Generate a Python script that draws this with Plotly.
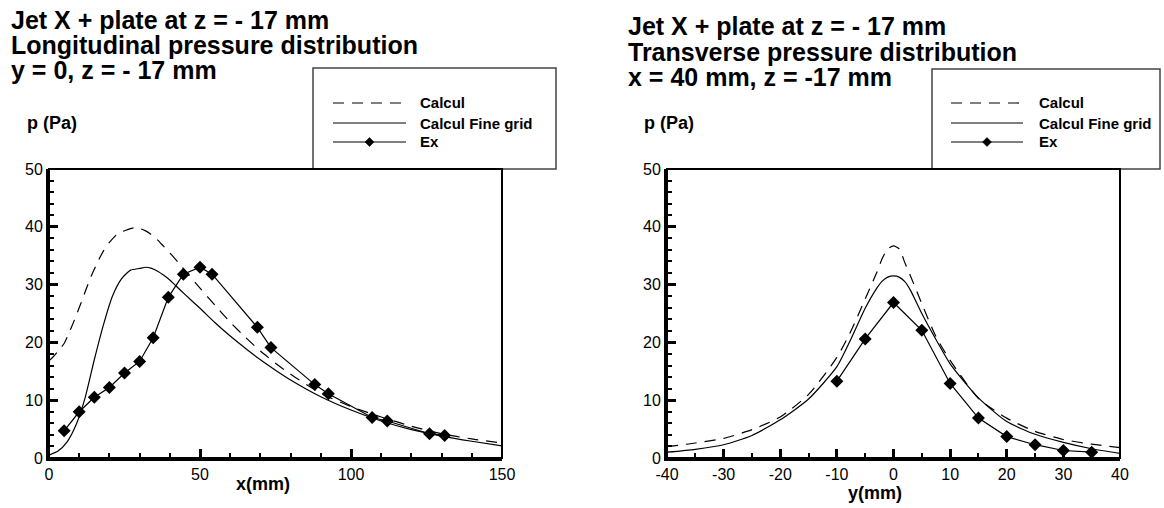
import plotly.graph_objects as go

W, H = 1164, 508

# ---------------- data ----------------
# Left: longitudinal distribution, y = 0, z = -17 mm
long_calc_x = [0, 1, 3, 5, 7.5, 10, 12, 14, 16, 18, 20, 23, 26, 28, 30, 32, 34, 36, 38, 40, 43, 46, 50,
               55, 60, 65, 70, 75, 80, 90, 100, 110, 120, 130, 140, 150]
long_calc_y = [16.8, 17.3, 18.5, 19.8, 22.7, 26.0, 28.8, 31.5, 33.8, 35.8, 37.3, 38.9, 39.5, 39.8, 39.7,
               39.3, 38.6, 37.7, 36.6, 35.5, 33.7, 31.8, 29.4, 26.4, 23.5, 20.9, 18.5, 16.4, 14.5,
               11.2, 8.9, 7.1, 5.5, 4.2, 3.3, 2.6]
long_fine_x = [0, 3, 6, 9, 12, 15, 18, 21, 24, 27, 30, 32, 34, 36, 38, 40, 42, 45, 50, 55, 60, 65, 70,
               75, 80, 90, 100, 110, 120, 130, 140, 150]
long_fine_y = [0.5, 1.2, 2.8, 5.8, 10.5, 17.0, 23.0, 28.0, 31.0, 32.5, 32.8, 33.0, 32.8, 32.3, 31.6,
               30.8, 29.8, 28.3, 25.9, 23.4, 21.1, 19.0, 17.0, 15.2, 13.5, 10.6, 8.3, 6.4, 4.9, 3.8,
               2.9, 2.1]
long_ex_x = [5, 10, 15, 20, 25, 30, 34.5, 39.5, 44.5, 50, 54, 69, 73.5, 88, 92.5, 107, 112, 126, 131]
long_ex_y = [4.7, 8.0, 10.5, 12.2, 14.7, 16.7, 20.8, 27.8, 31.8, 33.0, 31.8, 22.6, 19.1, 12.7, 11.1,
             7.0, 6.4, 4.2, 3.9]

# Right: transverse distribution, x = 40 mm, z = -17 mm
trans_calc_x = [-40, -35, -30, -25, -20, -15, -10, -7.5, -5, -3, -2, -1, 0, 1, 2, 3, 5, 7.5, 10, 15,
                20, 25, 30, 35, 40]
trans_calc_y = [1.95, 2.6, 3.4, 4.9, 7.1, 11.0, 17.4, 22.0, 27.5, 32.0, 34.5, 36.2, 36.7, 36.2, 33.8,
                31.5, 26.7, 21.0, 16.9, 10.3, 6.9, 4.6, 3.2, 2.4, 1.8]
trans_fine_x = [-40, -35, -30, -25, -20, -15, -10, -7.5, -5, -3, -2, -1, 0, 1, 2, 3, 5, 7.5, 10, 15,
                20, 25, 30, 35, 40]
trans_fine_y = [1.0, 1.5, 2.3, 3.9, 6.6, 10.2, 15.8, 20.6, 25.9, 29.3, 30.6, 31.3, 31.5, 31.3, 30.5,
                29.0, 25.0, 20.5, 16.3, 10.4, 6.3, 4.1, 2.7, 1.6, 0.8]
trans_ex_x = [-10, -5, 0, 5, 10, 15, 20, 25, 30, 35]
trans_ex_y = [13.3, 20.6, 26.9, 22.1, 12.9, 6.9, 3.7, 2.3, 1.3, 1.0]

# tick labels
long_x_ticks = [0, 50, 100, 150]
long_x_ticktext = ["0", "50", "100", "150"]
trans_x_ticks = [-40, -30, -20, -10, 0, 10, 20, 30, 40]
trans_x_ticktext = ["-40", "-30", "-20", "-10", "0", "10", "20", "30", "40"]
p_ticks = [0, 10, 20, 30, 40, 50]
p_ticktext = ["0", "10", "20", "30", "40", "50"]

series_names = ["Calcul", "Calcul Fine grid", "Ex"]
left_title = ["Jet X + plate at z = - 17 mm", "Longitudinal pressure distribution",
              "y = 0, z = - 17 mm"]
right_title = ["Jet X + plate at z = - 17 mm", "Transverse pressure distribution",
               "x = 40 mm, z = -17 mm"]

# ---------------- helpers ----------------
FONT = "Liberation Sans, Arial, Helvetica, sans-serif"


def fx(p):
    return p / W


def fy(p):
    return 1 - p / H


DASH = "11px,8px"
LW = 1.2

fig = go.Figure()


def add_panel(xa, ya, cx, cy, fxs, fys, ex, ey):
    fig.add_trace(go.Scatter(x=cx, y=cy, mode="lines", xaxis=xa, yaxis=ya, showlegend=False,
                             name=series_names[0],
                             line=dict(color="black", width=LW, dash=DASH, shape="spline",
                                       smoothing=0.6)))
    fig.add_trace(go.Scatter(x=fxs, y=fys, mode="lines", xaxis=xa, yaxis=ya, showlegend=False,
                             name=series_names[1],
                             line=dict(color="black", width=LW, shape="spline", smoothing=0.6)))
    fig.add_trace(go.Scatter(x=ex, y=ey, mode="lines+markers", xaxis=xa, yaxis=ya, showlegend=False,
                             name=series_names[2], line=dict(color="black", width=LW),
                             marker=dict(symbol="diamond", size=10, color="black")))


add_panel("x", "y", long_calc_x, long_calc_y, long_fine_x, long_fine_y, long_ex_x, long_ex_y)
add_panel("x2", "y2", trans_calc_x, trans_calc_y, trans_fine_x, trans_fine_y, trans_ex_x, trans_ex_y)

y_dom = [fy(458), fy(169)]
tickfont = dict(family=FONT, size=16, color="black")


def xaxis_cfg(dom, rng, tv, tt, mdtick, anchor):
    return dict(domain=dom, range=rng, tickmode="array", tickvals=tv, ticktext=tt, anchor=anchor,
                ticks="inside", ticklen=9, tickwidth=2.5, tickcolor="black", showline=True,
                linewidth=3, linecolor="black", showgrid=False, zeroline=False, tickfont=tickfont,
                automargin=False,
                minor=dict(dtick=mdtick, tick0=rng[0], ticks="inside", ticklen=5, tickwidth=1.5,
                           tickcolor="black", showgrid=False),
                fixedrange=True)


def yaxis_cfg(anchor):
    return dict(domain=y_dom, range=[0, 50], tickmode="array", tickvals=p_ticks, ticktext=p_ticktext,
                ticks="inside", ticklen=9, tickwidth=2.5, tickcolor="black", showline=True,
                linewidth=3, linecolor="black", showgrid=False, zeroline=False, tickfont=tickfont,
                anchor=anchor, automargin=False,
                minor=dict(dtick=2, tick0=0, ticks="inside", ticklen=5, tickwidth=1.5,
                           tickcolor="black", showgrid=False),
                fixedrange=True)


fig.update_layout(
    template="none",
    width=W, height=H, margin=dict(l=0, r=0, t=0, b=0, pad=0, autoexpand=False),
    paper_bgcolor="white", plot_bgcolor="white", showlegend=False,
    font=dict(family=FONT, color="black"),
    xaxis=xaxis_cfg([fx(49), fx(502)], [0, 150], long_x_ticks, long_x_ticktext, 10, "y"),
    yaxis=yaxis_cfg("x"),
    xaxis2=xaxis_cfg([fx(667), fx(1120)], [-40, 40], trans_x_ticks, trans_x_ticktext, 5, "y2"),
    yaxis2=yaxis_cfg("x2"),
)

shapes = []
annotations = []

# plot frames (thin top/right border)
for xr, yr in (("x domain", "y domain"), ("x2 domain", "y2 domain")):
    shapes.append(dict(type="rect", xref=xr, yref=yr, x0=0, x1=1, y0=0, y1=1,
                       line=dict(color="black", width=2)))

# titles (baselines in px -> bbox centre)
TS = 25
for lines, x0, b0 in ((left_title, 9, 28.5), (right_title, 626, 35)):
    for i, t in enumerate(lines):
        annotations.append(dict(text="<b>%s</b>" % t, xref="paper", yref="paper", x=fx(x0),
                                y=fy(b0 + 25.3 * i - 0.3465 * TS), xanchor="left", yanchor="middle",
                                showarrow=False, font=dict(family=FONT, size=TS, color="black")))

# axis titles
for txt, xc, yc in (("p (Pa)", 52, 123), ("p (Pa)", 669, 123), ("x(mm)", 263, 484),
                    ("y(mm)", 875, 493)):
    annotations.append(dict(text="<b>%s</b>" % txt, xref="paper", yref="paper", x=fx(xc), y=fy(yc),
                            xanchor="center", yanchor="middle", showarrow=False,
                            font=dict(family=FONT, size=18, color="black")))

# legend boxes
rows = [103, 123, 142]
for bx0, bx1, by0, lx0, lx1, tx in ((313, 556, 68, 333, 406, 418), (932, 1160, 69, 951, 1023, 1037)):
    shapes.append(dict(type="rect", xref="paper", yref="paper", x0=fx(bx0), x1=fx(bx1), y0=fy(169),
                       y1=fy(by0), line=dict(color="#444444", width=1.5), layer="below"))
    for i, name in enumerate(series_names):
        yy = fy(rows[i])
        shapes.append(dict(type="line", xref="paper", yref="paper", x0=fx(lx0), x1=fx(lx1), y0=yy,
                           y1=yy, line=dict(color="black", width=LW, dash=DASH if i == 0 else "solid")))
        annotations.append(dict(text="<b>%s</b>" % name, xref="paper", yref="paper", x=fx(tx), y=yy,
                                xanchor="left", yanchor="middle", showarrow=False,
                                font=dict(family=FONT, size=15, color="black")))
    mx = (lx0 + lx1) / 2
    my = rows[2]
    d = 4.5
    shapes.append(dict(type="path", xref="paper", yref="paper",
                       path="M %f,%f L %f,%f L %f,%f L %f,%f Z" % (
                           fx(mx), fy(my - d), fx(mx + d), fy(my), fx(mx), fy(my + d), fx(mx - d), fy(my)),
                       fillcolor="black", line=dict(color="black", width=0.5)))

fig.update_layout(shapes=shapes, annotations=annotations)
fig.write_html("out.html")
